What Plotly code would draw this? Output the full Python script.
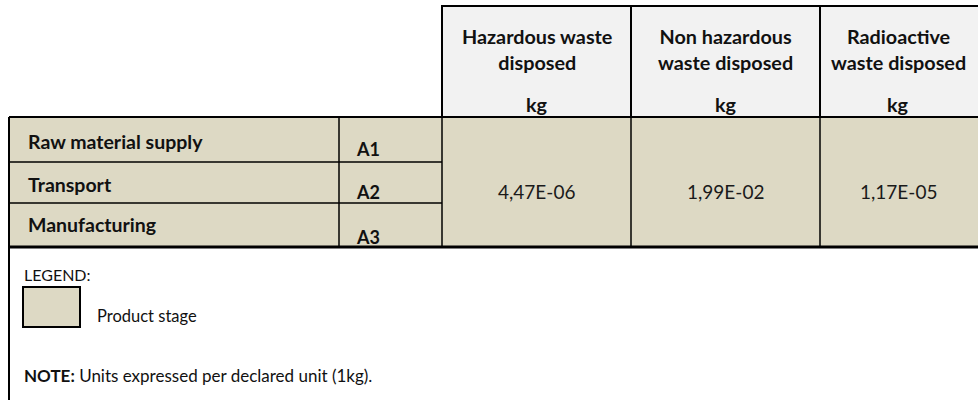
import plotly.graph_objects as go

# ---- data ----
stages = ["Raw material supply", "Transport", "Manufacturing"]
codes = ["A1", "A2", "A3"]
indicators = ["Hazardous waste<br>disposed", "Non hazardous<br>waste disposed", "Radioactive<br>waste disposed"]
units = ["kg", "kg", "kg"]
values = [4.47e-06, 1.99e-02, 1.17e-05]
legend_label = "Product stage"
note_text = "<b>NOTE:</b> Units expressed per declared unit (1kg)."

def fmt(v):
    return f"{v:.2E}".replace(".", ",")

# ---- layout geometry (page pixels) ----
W, H = 978, 400
FONT = "Lato, sans-serif"
TAN = "#ddd9c4"
HEAD = "#f2f2f2"
TXT = "#111111"

x_left, x_code, x_val0 = 9, 339, 442
col_edges = [442, 631, 820, 990]
col_centers = [536.5, 725.5, 898]
y_top, y_head, y_body_end = 6, 117, 247
row_edges = [117, 162, 203, 247]

fig = go.Figure()
shapes = []
ann = []

# header box
shapes.append(dict(type="rect", x0=x_val0, x1=col_edges[-1], y0=y_top, y1=y_head,
                   fillcolor=HEAD, line=dict(color="black", width=2), layer="below"))
for xe in col_edges[1:-1]:
    shapes.append(dict(type="line", x0=xe, x1=xe, y0=y_top, y1=y_head, line=dict(color="black", width=2)))

# body
shapes.append(dict(type="rect", x0=x_left, x1=col_edges[-1], y0=y_head, y1=y_body_end,
                   fillcolor=TAN, line=dict(width=0), layer="below"))
shapes.append(dict(type="line", x0=x_left, x1=col_edges[-1], y0=y_head, y1=y_head, line=dict(color="black", width=2)))
shapes.append(dict(type="line", x0=x_left, x1=col_edges[-1], y0=y_body_end, y1=y_body_end, line=dict(color="black", width=3)))
for ye in row_edges[1:-1]:
    shapes.append(dict(type="line", x0=x_left, x1=x_val0, y0=ye, y1=ye, line=dict(color="black", width=1.5)))
for xe in [x_code] + col_edges[:-1]:
    shapes.append(dict(type="line", x0=xe, x1=xe, y0=y_head, y1=y_body_end, line=dict(color="black", width=1.5)))
shapes.append(dict(type="line", x0=x_left, x1=x_left, y0=y_head, y1=H + 20, line=dict(color="black", width=2)))

# legend swatch
shapes.append(dict(type="rect", x0=23, x1=80, y0=287, y1=327, fillcolor=TAN,
                   line=dict(color="black", width=2)))

# header text
for cx, ind, u in zip(col_centers, indicators, units):
    ann.append(dict(x=cx, y=49, text=f"<b>{ind}</b>", xanchor="center", yanchor="middle",
                    font=dict(family=FONT, size=19.8, color=TXT)))
    ann.append(dict(x=cx, y=104, text=f"<b>{u}</b>", xanchor="center", yanchor="middle",
                    font=dict(family=FONT, size=19.8, color=TXT)))

# row labels
label_y = [141, 184, 224]
code_y = [149, 192, 237]
for s, c, ly, cy in zip(stages, codes, label_y, code_y):
    ann.append(dict(x=26, y=ly, text=f"<b>{s}</b>", xanchor="left", yanchor="middle",
                    font=dict(family=FONT, size=19.5, color=TXT)))
    ann.append(dict(x=354, y=cy, text=f"<b>{c}</b>", xanchor="left", yanchor="middle",
                    font=dict(family=FONT, size=18, color=TXT)))

# values (merged across the three product-stage rows)
for cx, v in zip(col_centers, values):
    ann.append(dict(x=cx, y=191, text=fmt(v), xanchor="center", yanchor="middle",
                    font=dict(family=FONT, size=19, color="#1a1a1a")))

# legend + note
ann.append(dict(x=22, y=274, text="LEGEND:", xanchor="left", yanchor="middle",
                font=dict(family=FONT, size=16, color=TXT)))
ann.append(dict(x=95, y=316, text=legend_label, xanchor="left", yanchor="middle",
                font=dict(family=FONT, size=16.5, color=TXT)))
ann.append(dict(x=22, y=375, text=note_text, xanchor="left", yanchor="middle",
                font=dict(family=FONT, size=17, color=TXT)))

for a in ann:
    a.update(xref="x", yref="y", showarrow=False)

fig.update_layout(
    width=W, height=H, autosize=False,
    margin=dict(l=0, r=0, t=0, b=0, pad=0),
    paper_bgcolor="white", plot_bgcolor="white",
    xaxis=dict(range=[0, W], visible=False, fixedrange=True),
    yaxis=dict(range=[H, 0], visible=False, fixedrange=True),
    shapes=shapes, annotations=ann, showlegend=False,
)
fig.write_html("out.html", config={"displayModeBar": False},
               post_script="document.body.style.margin='0';document.body.style.overflow='hidden';")
